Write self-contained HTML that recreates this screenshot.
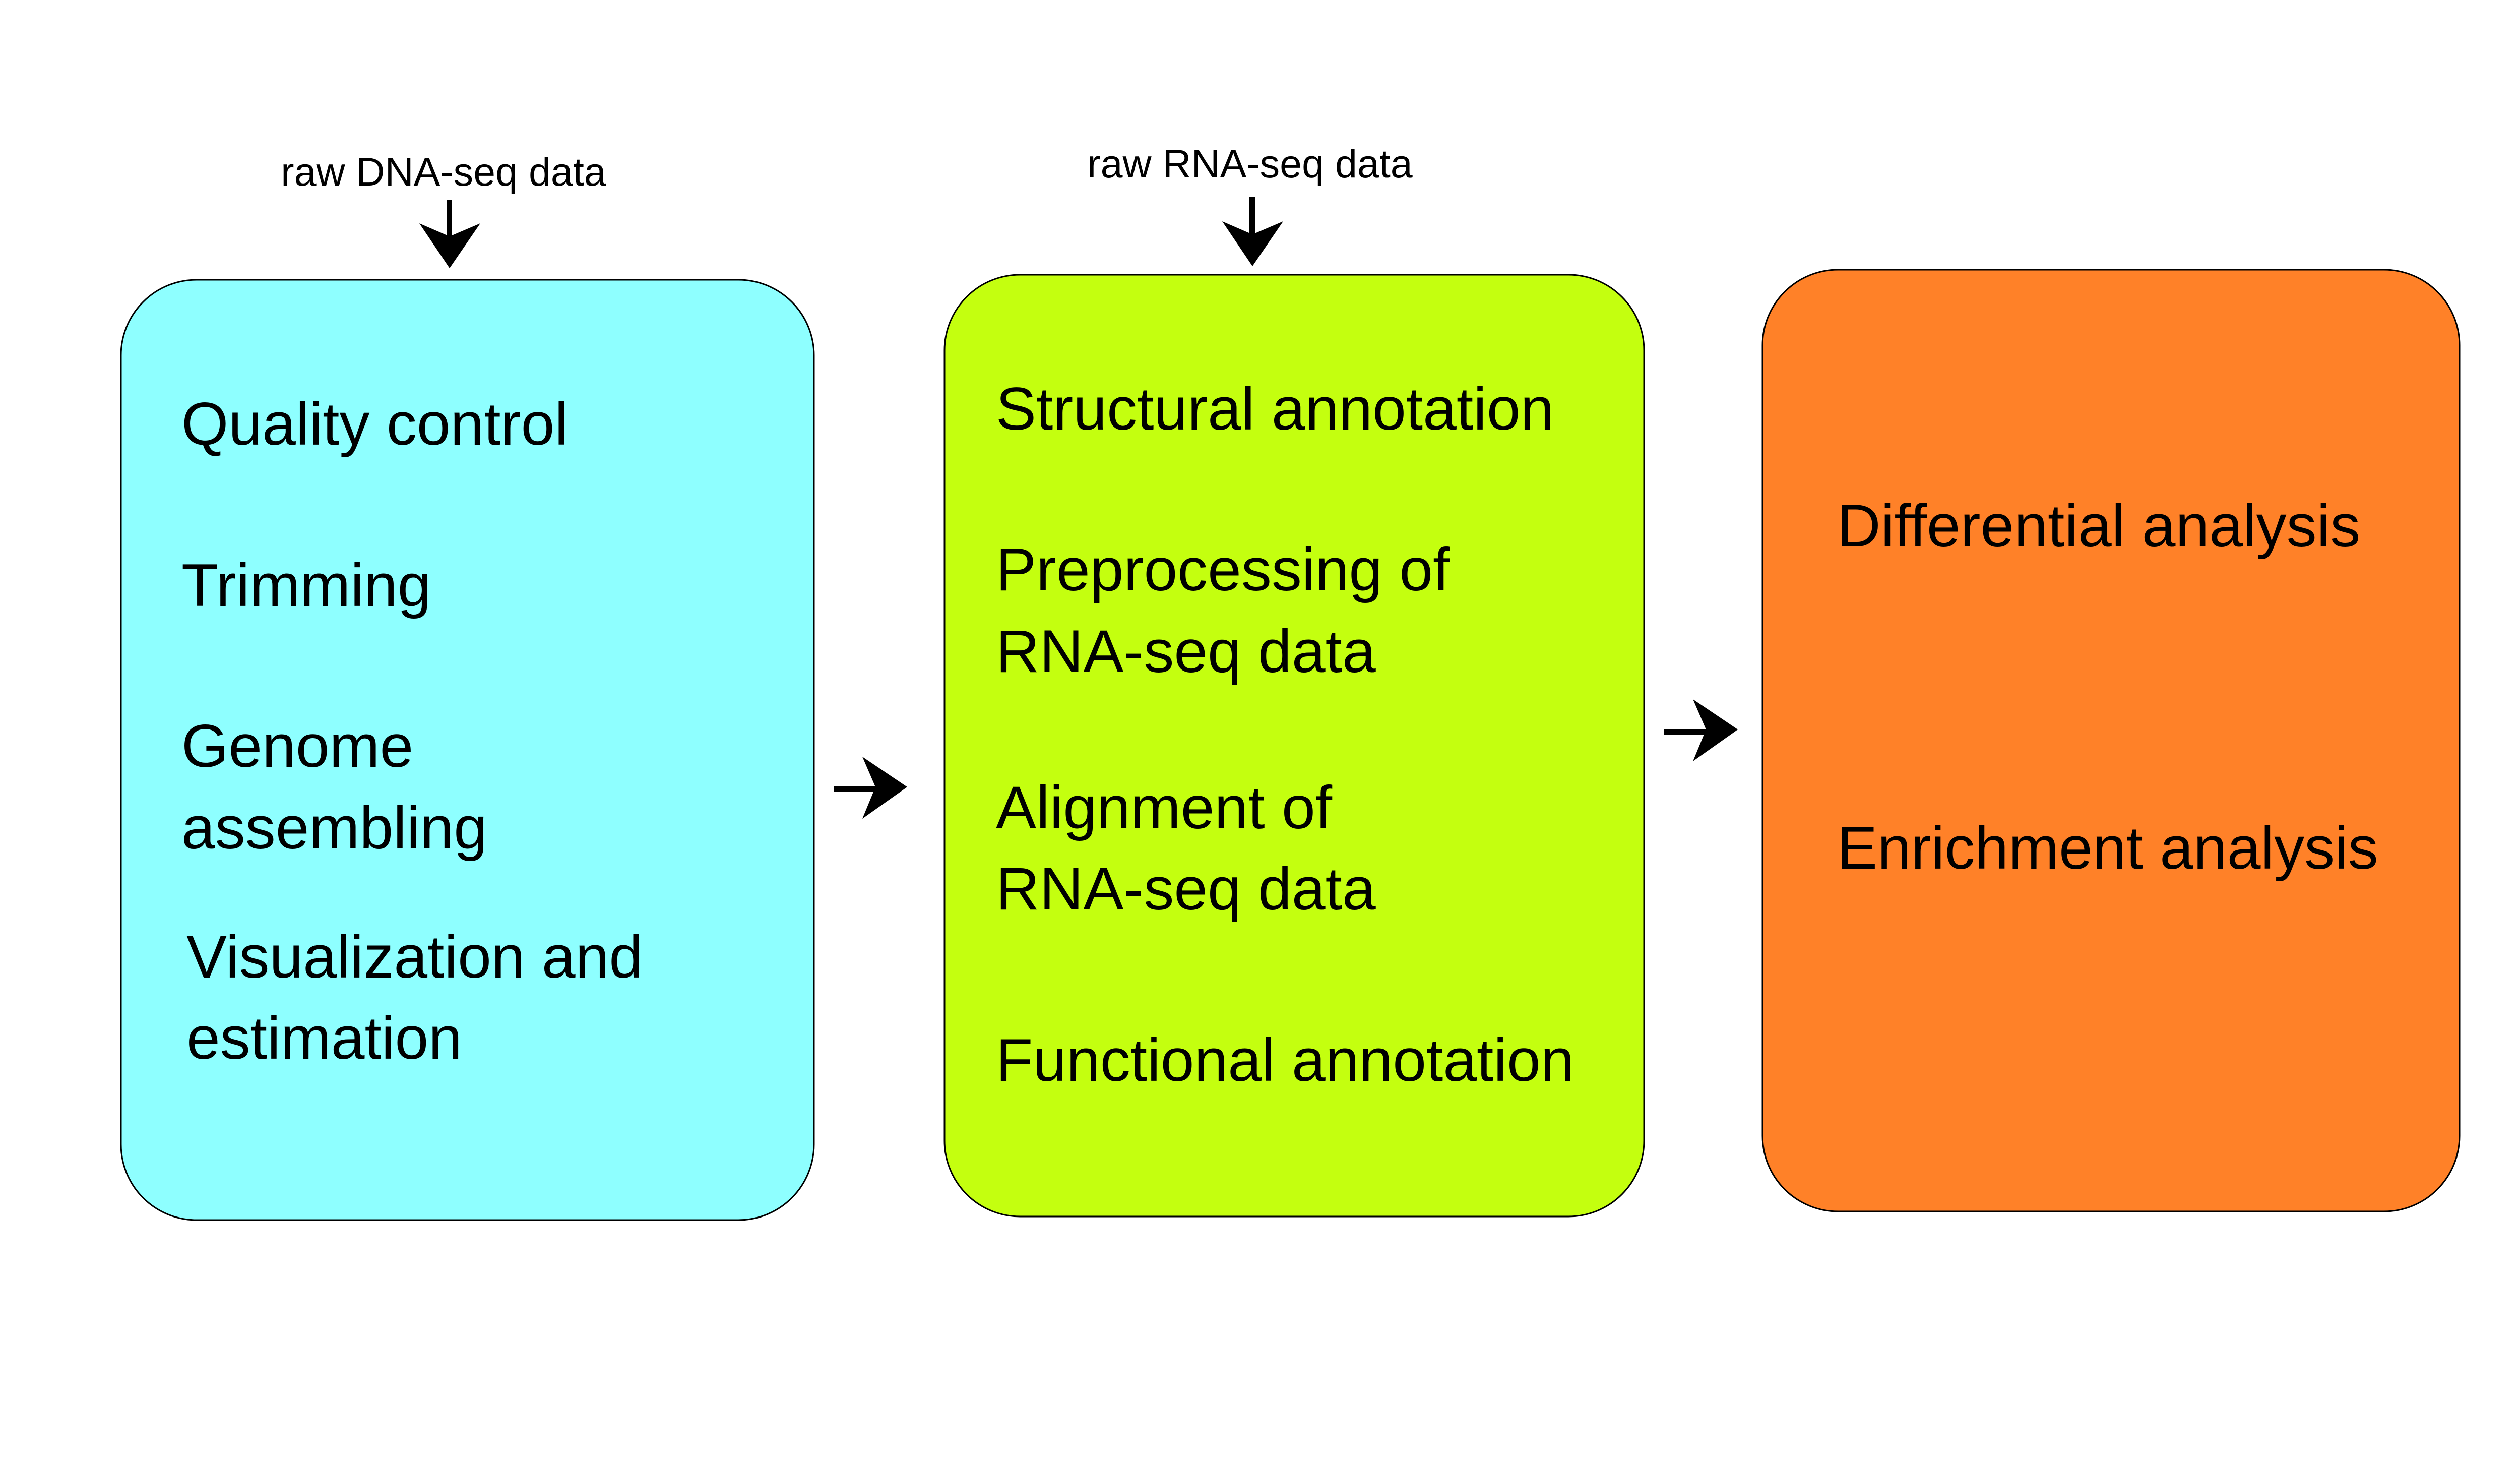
<!DOCTYPE html>
<html><head><meta charset="utf-8"><style>
html,body{margin:0;padding:0;background:#fff;}
svg{display:block}
text{font-family:"Liberation Sans",sans-serif;fill:#000}
.b{font-size:120px;transform-origin:0 0}
.s{font-size:79px}
</style></head><body>
<svg width="5251" height="2898" viewBox="0 0 5251 2898" xmlns="http://www.w3.org/2000/svg">
<rect x="240" y="555" width="1375" height="1865" rx="150" ry="150" fill="#8effff" stroke="#000" stroke-width="3"/>
<rect x="1874" y="545" width="1388" height="1868" rx="150" ry="150" fill="#c4ff0f" stroke="#000" stroke-width="3"/>
<rect x="3497" y="535" width="1383" height="1868" rx="150" ry="150" fill="#ff8128" stroke="#000" stroke-width="3"/>

<text class="s" x="880" y="368" text-anchor="middle">raw DNA-seq data</text>
<text class="s" x="2480" y="352" text-anchor="middle">raw RNA-seq data</text>

<text class="b" x="360" y="882">Quality control</text>
<text class="b" x="360" y="1202">Trimming</text>
<text class="b" x="360" y="1521">Genome</text>
<text class="b" x="360" y="1683">assembling</text>
<text class="b" x="370" y="1939">Visualization and</text>
<text class="b" x="370" y="2100">estimation</text>

<text class="b" x="1976" y="852">Structural annotation</text>
<text class="b" x="1976" y="1171">Preprocessing of</text>
<text class="b" x="1976" y="1333">RNA-seq data</text>
<text class="b" x="1976" y="1643">Alignment of</text>
<text class="b" x="1976" y="1804">RNA-seq data</text>
<text class="b" x="1976" y="2144">Functional annotation</text>

<text class="b" x="3645" y="1084">Differential analysis</text>
<text class="b" x="3645" y="1723">Enrichment analysis</text>

<g fill="#000">
<rect x="1654" y="1560" width="90" height="11"/>
<polygon points="1800,1561 1711,1501 1737,1561 1711,1624"/>
<rect x="3302" y="1446" width="90" height="11"/>
<polygon points="3448,1447 3359,1387 3385,1447 3359,1510"/>
<rect x="886" y="397" width="11" height="90"/>
<polygon points="892,532 832,443 892,469 953,443"/>
<rect x="2479" y="390" width="11" height="90"/>
<polygon points="2485,528 2425,439 2485,465 2546,439"/>
</g>
</svg>
</body></html>
